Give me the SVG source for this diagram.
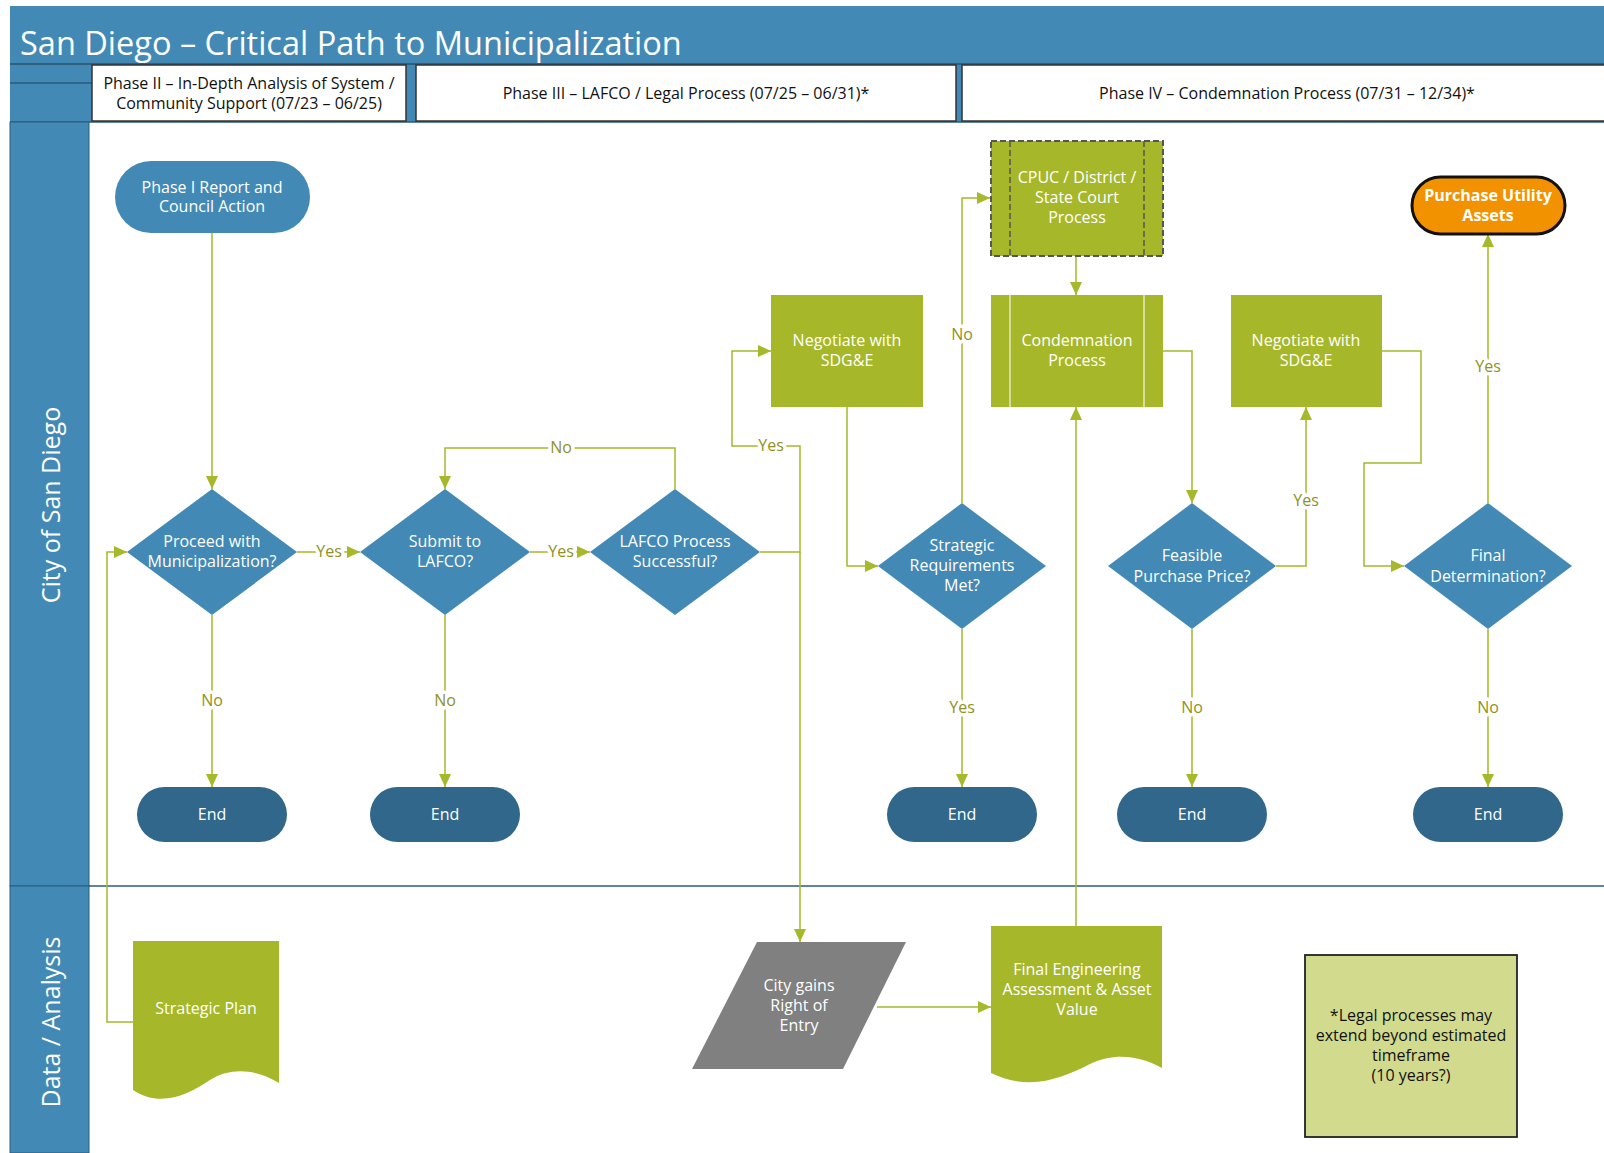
<svg xmlns="http://www.w3.org/2000/svg" width="1604" height="1153" viewBox="0 0 1604 1153">
<defs>
<marker id="arr" markerUnits="userSpaceOnUse" markerWidth="14" markerHeight="12" refX="13" refY="6" orient="auto">
<path d="M0,0 L13,6 L0,12 Z" fill="#A5B92A"/>
</marker>
<style>
text{font-family:"Open Sans","Noto Sans","DejaVu Sans",sans-serif;}
.nt{fill:#fff;font-size:16px;text-anchor:middle;dominant-baseline:central;}
.ph{fill:#111;font-size:16px;text-anchor:middle;dominant-baseline:central;}
.lane{fill:#fff;font-size:25px;text-anchor:middle;dominant-baseline:central;}
.blue{fill:#428AB5;}
.dblue{fill:#31678A;}
.green{fill:#A6B82A;}
.c{fill:none;stroke:#A5B92A;stroke-width:1.5;}
.lbl{fill:#8E9224;font-size:16px;text-anchor:middle;dominant-baseline:central;paint-order:stroke;stroke:#fff;stroke-width:7px;stroke-linejoin:round;}
</style>
</defs>
<rect x="0" y="0" width="1604" height="1153" fill="#fff"/>
<g id="header">
<rect x="10" y="6" width="1594" height="116" fill="#428AB5"/>
<line x1="10" y1="64" x2="1604" y2="64" stroke="#2C4F6A" stroke-width="1.5"/>
<line x1="10" y1="83" x2="92" y2="83" stroke="#2C5A7C" stroke-width="1.5"/>
<line x1="10" y1="122" x2="1604" y2="122" stroke="#2C5A7C" stroke-width="1.5"/>
<text x="20" y="55" fill="#fff" font-size="32.5">San Diego – Critical Path to Municipalization</text>
</g>
<g id="phase2">
<rect x="92" y="65" width="314" height="56" fill="#fff" stroke="#333" stroke-width="1.5"/>
<text class="ph" x="249" y="83">Phase II – In-Depth Analysis of System /</text>
<text class="ph" x="249" y="103">Community Support (07/23 – 06/25)</text>
</g>
<g id="phase3">
<rect x="416" y="65" width="540" height="56" fill="#fff" stroke="#333" stroke-width="1.5"/>
<text class="ph" x="686" y="93">Phase III – LAFCO / Legal Process (07/25 – 06/31)*</text>
</g>
<g id="phase4">
<rect x="962" y="65" width="645" height="56" fill="#fff" stroke="#333" stroke-width="1.5"/>
<text class="ph" x="1287" y="93">Phase IV – Condemnation Process (07/31 – 12/34)*</text>
</g>
<g id="lane-city">
<rect x="10" y="122" width="79" height="764" fill="#428AB5" stroke="#2C5A7C" stroke-width="1"/>
<text class="lane" transform="translate(50,505) rotate(-90)">City of San Diego</text>
</g>
<g id="lane-data">
<rect x="10" y="886" width="79" height="267" fill="#428AB5" stroke="#2C5A7C" stroke-width="1"/>
<text class="lane" transform="translate(50,1022) rotate(-90)">Data / Analysis</text>
</g>
<line x1="89" y1="886" x2="1604" y2="886" stroke="#2C5A7C" stroke-width="1.5"/>

<g id="connectors">
<path class="c" d="M212,233 V489" marker-end="url(#arr)"/>
<path class="c" d="M297,552 H360" marker-end="url(#arr)"/>
<path class="c" d="M530,552 H590" marker-end="url(#arr)"/>
<path class="c" d="M675,489 V448 H445 V489" marker-end="url(#arr)"/>
<path class="c" d="M212,615 V787" marker-end="url(#arr)"/>
<path class="c" d="M445,615 V787" marker-end="url(#arr)"/>
<path class="c" d="M760,552 H800 V446 H732 V351 H771" marker-end="url(#arr)"/>
<path class="c" d="M800,552 V942" marker-end="url(#arr)"/>
<path class="c" d="M847,407 V566 H878" marker-end="url(#arr)"/>
<path class="c" d="M962,503 V198 H990" marker-end="url(#arr)"/>
<path class="c" d="M962,629 V787" marker-end="url(#arr)"/>
<path class="c" d="M1076,256 V295" marker-end="url(#arr)"/>
<path class="c" d="M1163,351 H1192 V503" marker-end="url(#arr)"/>
<path class="c" d="M1076,926 V407" marker-end="url(#arr)"/>
<path class="c" d="M877,1007 H991" marker-end="url(#arr)"/>
<path class="c" d="M1276,566 H1306 V407" marker-end="url(#arr)"/>
<path class="c" d="M1192,629 V787" marker-end="url(#arr)"/>
<path class="c" d="M1382,351 H1421 V463 H1364 V566 H1404" marker-end="url(#arr)"/>
<path class="c" d="M1488,503 V234" marker-end="url(#arr)"/>
<path class="c" d="M1488,629 V787" marker-end="url(#arr)"/>
<path class="c" d="M133,1022 H107 V552 H127" marker-end="url(#arr)"/>
<text class="lbl" x="329" y="551">Yes</text>
<text class="lbl" x="561" y="551">Yes</text>
<text class="lbl" x="561" y="447">No</text>
<text class="lbl" x="212" y="700">No</text>
<text class="lbl" x="445" y="700">No</text>
<text class="lbl" x="771" y="445">Yes</text>
<text class="lbl" x="962" y="334">No</text>
<text class="lbl" x="962" y="707">Yes</text>
<text class="lbl" x="1306" y="500">Yes</text>
<text class="lbl" x="1192" y="707">No</text>
<text class="lbl" x="1488" y="366">Yes</text>
<text class="lbl" x="1488" y="707">No</text>
</g>

<g id="phase1-report">
<rect class="blue" x="115" y="161" width="195" height="72" rx="36"/>
<text class="nt" x="212" y="187">Phase I Report and</text>
<text class="nt" x="212" y="206">Council Action</text>
</g>
<g id="d-proceed">
<polygon class="blue" points="212,489 297,552 212,615 127,552"/>
<text class="nt" x="212" y="541">Proceed with</text>
<text class="nt" x="212" y="561">Municipalization?</text>
</g>
<g id="d-submit">
<polygon class="blue" points="445,489 530,552 445,615 360,552"/>
<text class="nt" x="445" y="541">Submit to</text>
<text class="nt" x="445" y="561">LAFCO?</text>
</g>
<g id="d-lafco">
<polygon class="blue" points="675,489 760,552 675,615 590,552"/>
<text class="nt" x="675" y="541">LAFCO Process</text>
<text class="nt" x="675" y="561">Successful?</text>
</g>
<g id="end1"><rect class="dblue" x="137" y="787" width="150" height="55" rx="27.5"/><text class="nt" x="212" y="814">End</text></g>
<g id="end2"><rect class="dblue" x="370" y="787" width="150" height="55" rx="27.5"/><text class="nt" x="445" y="814">End</text></g>
<g id="end3"><rect class="dblue" x="887" y="787" width="150" height="55" rx="27.5"/><text class="nt" x="962" y="814">End</text></g>
<g id="end4"><rect class="dblue" x="1117" y="787" width="150" height="55" rx="27.5"/><text class="nt" x="1192" y="814">End</text></g>
<g id="end5"><rect class="dblue" x="1413" y="787" width="150" height="55" rx="27.5"/><text class="nt" x="1488" y="814">End</text></g>
<g id="negotiate1">
<rect class="green" x="771" y="295" width="152" height="112"/>
<text class="nt" x="847" y="340">Negotiate with</text>
<text class="nt" x="847" y="360">SDG&amp;E</text>
</g>
<g id="d-strategic">
<polygon class="blue" points="962,503 1046,566 962,629 878,566"/>
<text class="nt" x="962" y="545">Strategic</text>
<text class="nt" x="962" y="565">Requirements</text>
<text class="nt" x="962" y="585">Met?</text>
</g>
<g id="cpuc">
<rect class="green" x="991" y="141" width="172" height="115" stroke="#555" stroke-width="2" stroke-dasharray="6,3"/>
<line x1="1010" y1="141" x2="1010" y2="256" stroke="#555" stroke-width="1.5" stroke-dasharray="6,3"/>
<line x1="1144" y1="141" x2="1144" y2="256" stroke="#555" stroke-width="1.5" stroke-dasharray="6,3"/>
<text class="nt" x="1077" y="177">CPUC / District /</text>
<text class="nt" x="1077" y="197">State Court</text>
<text class="nt" x="1077" y="217">Process</text>
</g>
<g id="condemnation">
<rect class="green" x="991" y="295" width="172" height="112"/>
<line x1="1010" y1="295" x2="1010" y2="407" stroke="#E4EBB8" stroke-width="1.5"/>
<line x1="1144" y1="295" x2="1144" y2="407" stroke="#E4EBB8" stroke-width="1.5"/>
<text class="nt" x="1077" y="340">Condemnation</text>
<text class="nt" x="1077" y="360">Process</text>
</g>
<g id="d-feasible">
<polygon class="blue" points="1192,503 1276,566 1192,629 1108,566"/>
<text class="nt" x="1192" y="555">Feasible</text>
<text class="nt" x="1192" y="576">Purchase Price?</text>
</g>
<g id="negotiate2">
<rect class="green" x="1231" y="295" width="151" height="112"/>
<text class="nt" x="1306" y="340">Negotiate with</text>
<text class="nt" x="1306" y="360">SDG&amp;E</text>
</g>
<g id="d-final">
<polygon class="blue" points="1488,503 1572,566 1488,629 1404,566"/>
<text class="nt" x="1488" y="555">Final</text>
<text class="nt" x="1488" y="576">Determination?</text>
</g>
<g id="purchase">
<rect x="1412" y="177" width="153" height="57" rx="28.5" fill="#F39200" stroke="#111" stroke-width="3"/>
<text class="nt" x="1488" y="195" font-weight="bold">Purchase Utility</text>
<text class="nt" x="1488" y="215" font-weight="bold">Assets</text>
</g>
<g id="strategic-plan">
<path class="green" d="M133,941 H279 V1083 C258,1070 232,1066 210,1080 C188,1095 160,1108 133,1090 Z"/>
<text class="nt" x="206" y="1008">Strategic Plan</text>
</g>
<g id="city-gains">
<polygon points="757,942 906,942 843,1069 692,1069" fill="#808080"/>
<text class="nt" x="799" y="985">City gains</text>
<text class="nt" x="799" y="1005">Right of</text>
<text class="nt" x="799" y="1025">Entry</text>
</g>
<g id="final-engineering">
<path class="green" d="M991,926 H1162 V1068 C1140,1056 1115,1052 1090,1064 C1062,1078 1030,1092 991,1073 Z"/>
<text class="nt" x="1077" y="969">Final Engineering</text>
<text class="nt" x="1077" y="989">Assessment &amp; Asset</text>
<text class="nt" x="1077" y="1009">Value</text>
</g>
<g id="note">
<rect x="1305" y="955" width="212" height="182" fill="#D2DA8E" stroke="#222" stroke-width="1.8"/>
<text class="ph" x="1411" y="1015" fill="#222">*Legal processes may</text>
<text class="ph" x="1411" y="1035" fill="#222">extend beyond estimated</text>
<text class="ph" x="1411" y="1055" fill="#222">timeframe</text>
<text class="ph" x="1411" y="1075" fill="#222">(10 years?)</text>
</g>
</svg>
